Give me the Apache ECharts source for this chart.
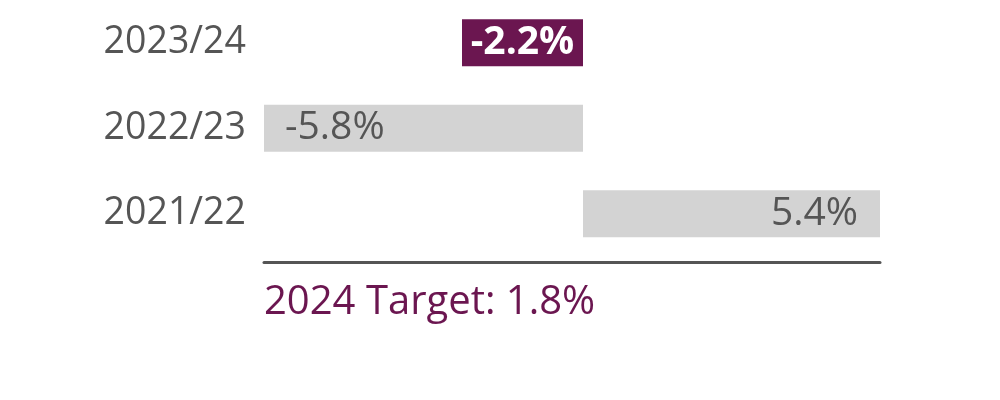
<!DOCTYPE html>
<html>
<head>
<meta charset="utf-8">
<script src="https://cdn.jsdelivr.net/npm/echarts@6/dist/echarts.min.js"></script>
<style>html,body{margin:0;padding:0;background:#fff;}#c{width:1000px;height:400px;}</style>
</head>
<body>
<div id="c"></div>
<script>
var categories = ['2021/22', '2022/23', '2023/24'];
var values = [5.4, -5.8, -2.2];
var highlight = [false, false, true];
var targetText = '2024 Target: 1.8%';

var FONT = 'Open Sans';
var PURPLE = '#6b1650';
var GREY_BAR = '#d3d3d3';
var TEXT = '#555555';

var data = values.map(function (v, i) {
  var hl = highlight[i];
  var lbl = {
    show: true,
    formatter: function (p) { return p.value.toFixed(1) + '%'; },
    fontFamily: FONT,
    fontSize: 39,
    color: hl ? '#ffffff' : TEXT,
    fontWeight: hl ? 'bold' : 'normal'
  };
  if (hl) { lbl.position = 'inside'; }
  else if (v < 0) { lbl.position = 'insideLeft'; lbl.distance = 21; }
  else { lbl.position = 'insideRight'; lbl.distance = 22; }
  return { value: v, itemStyle: { color: hl ? PURPLE : GREY_BAR }, label: lbl };
});

var chart = echarts.init(document.getElementById('c'));
chart.setOption({
  animation: false,
  grid: { left: 264, right: 120, top: -1.5, height: 258, containLabel: false },
  xAxis: {
    type: 'value', min: -5.8, max: 5.4, position: 'bottom', offset: 6,
    axisLine: { show: true, lineStyle: { color: TEXT, width: 3 } },
    axisTick: { show: false }, axisLabel: { show: false }, splitLine: { show: false }
  },
  yAxis: {
    type: 'category', data: categories,
    axisLine: { show: false }, axisTick: { show: false },
    axisLabel: { fontFamily: FONT, fontSize: 37.5, color: TEXT, margin: 18 }
  },
  series: [{
    type: 'bar', data: data, barWidth: 47
  }],
  graphic: [{
    type: 'text', left: 264, top: 283,
    style: { text: targetText, fontFamily: FONT, fontSize: 40, fill: PURPLE }
  }]
});
</script>
</body>
</html>
